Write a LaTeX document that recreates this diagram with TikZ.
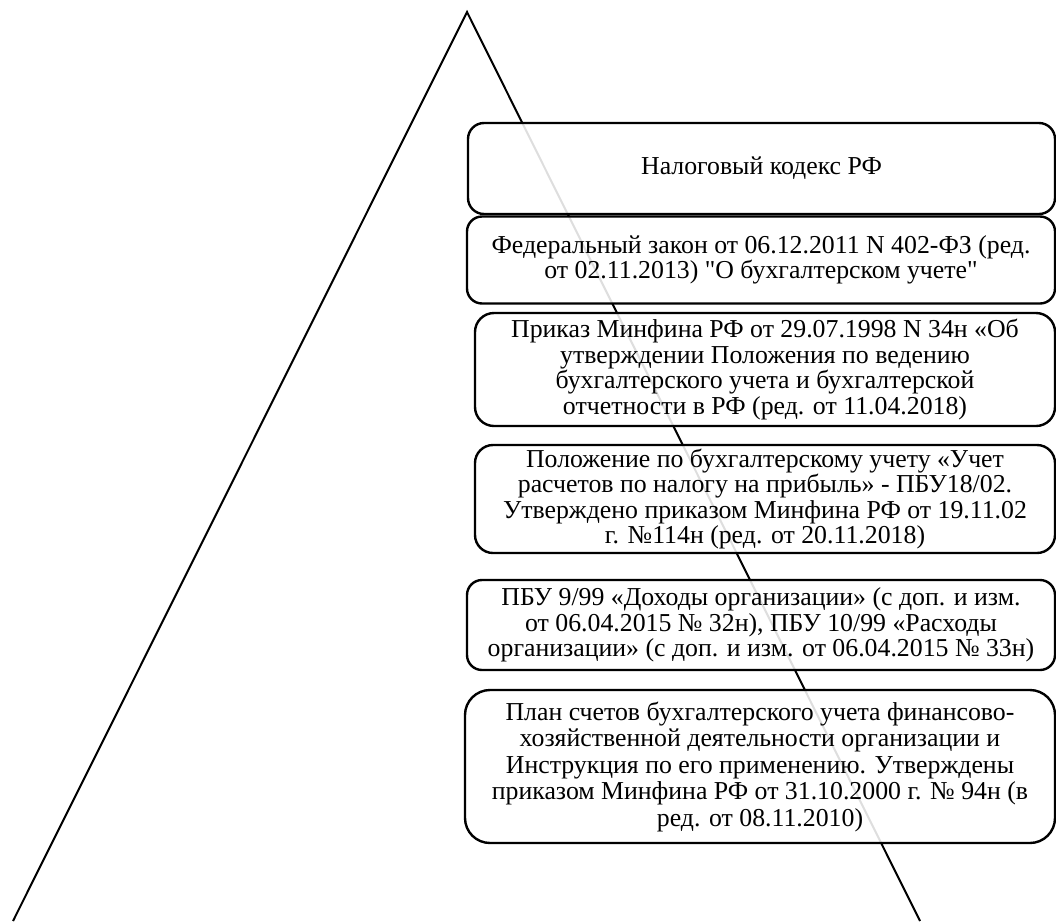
\documentclass[tikz,border=0pt]{standalone}
\usepackage{fontspec}
\setmainfont{Liberation Serif}[Ligatures=TeXOff]
\begin{document}
\begin{tikzpicture}[x=1pt,y=-1pt,
  tier/.style={draw=black, line width=2.4pt, fill=white,
    fill opacity=0.87, text opacity=1, align=center, inner sep=0pt,
    font=\fontsize{25.8}{25.4}\selectfont},
  edge/.style={draw=black, line width=2pt}]
\useasboundingbox (0,0) rectangle (1056,921);
\coordinate (apex) at (467,12);
\coordinate (bl) at (13,921);
\coordinate (br) at (920,921);
\draw[edge] (bl) -- (apex) -- (br);
\node[tier, rounded corners=16pt, minimum width=587pt, minimum height=91pt] (t1) at (761.5,168.5) {Налоговый кодекс РФ};
\node[tier, rounded corners=15pt, minimum width=588pt, minimum height=87pt] (t2) at (761,260) {Федеральный закон от 06.12.2011 N 402-ФЗ (ред.\\от 02.11.2013) "О бухгалтерском учете"};
\node[tier, rounded corners=19pt, minimum width=580pt, minimum height=113pt] (t3) at (765,369.5) {Приказ Минфина РФ от 29.07.1998 N 34н «Об\\утверждении Положения по ведению\\бухгалтерского учета и бухгалтерской\\отчетности в РФ (ред. от 11.04.2018)};
\node[tier, rounded corners=18pt, minimum width=580pt, minimum height=108pt] (t4) at (765,499) {Положение по бухгалтерскому учету «Учет\\расчетов по налогу на прибыль» - ПБУ18/02.\\Утверждено приказом Минфина РФ от 19.11.02\\г. №114н (ред. от 20.11.2018)};
\node[tier, rounded corners=15pt, minimum width=588pt, minimum height=90pt] (t5) at (761,625) {ПБУ 9/99 «Доходы организации» (с доп. и изм.\\от 06.04.2015 № 32н), ПБУ 10/99 «Расходы\\организации» (с доп. и изм. от 06.04.2015 № 33н)};
\node[tier, rounded corners=25pt, minimum width=590pt, minimum height=153pt,
  font=\fontsize{25.8}{26.5}\selectfont] (t6) at (760,766.5) {План счетов бухгалтерского учета финансово-\\хозяйственной деятельности организации и\\Инструкция по его применению. Утверждены\\приказом Минфина РФ от 31.10.2000 г. № 94н (в\\ред. от 08.11.2010)};
\end{tikzpicture}
\end{document}
